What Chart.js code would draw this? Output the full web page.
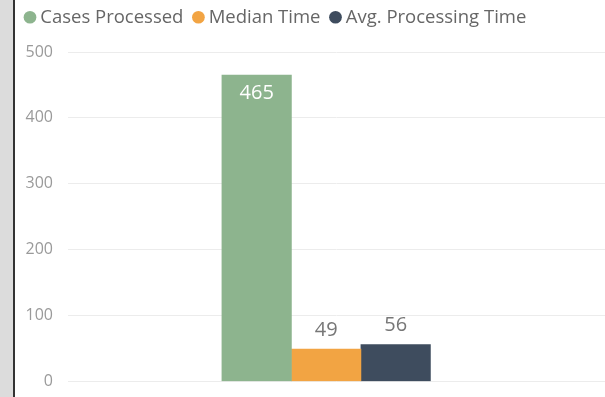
<!DOCTYPE html>
<html>
<head>
<meta charset="utf-8">
<script src="https://cdn.jsdelivr.net/npm/chart.js@4.4.1/dist/chart.umd.min.js"></script>
<style>
  html, body { margin: 0; padding: 0; background: #fff; }
  #wrap { position: relative; width: 605px; height: 397px; overflow: hidden; }
  #frame { position: absolute; left: 0; top: 0; width: 13px; height: 397px; background: #dcdcdc; border-right: 2px solid #333; }
  #box { position: absolute; left: 15px; top: 0; width: 590px; height: 406px; }
</style>
</head>
<body>
<div id="wrap">
  <div id="frame"></div>
  <div id="box"><canvas id="c"></canvas></div>
</div>
<script>
const categories = [''];
const seriesNames = ['Cases Processed', 'Median Time', 'Avg. Processing Time'];
const casesProcessed = [465];
const medianTime = [49];
const avgProcessingTime = [56];
const yTicks = [0, 100, 200, 300, 400, 500];
const seriesColors = ['#8db48e', '#f2a443', '#3e4c5e'];

const seriesValues = [casesProcessed, medianTime, avgProcessingTime];
const FONT = '"Open Sans", "Noto Sans", sans-serif';

const legendGap = {
  id: 'legendGap',
  beforeInit(chart) {
    const fit = chart.legend.fit;
    chart.legend.fit = function () {
      fit.bind(chart.legend)();
      this.height += 15.5;
    };
  }
};

const dataLabels = {
  id: 'dataLabels',
  afterDatasetsDraw(chart) {
    const ctx = chart.ctx;
    ctx.save();
    ctx.font = '20px ' + FONT;
    ctx.textAlign = 'center';
    chart.data.datasets.forEach((ds, di) => {
      const meta = chart.getDatasetMeta(di);
      meta.data.forEach((bar, i) => {
        const v = ds.data[i].y;
        const h = bar.base - bar.y;
        if (h > 60) {
          ctx.fillStyle = '#ffffff';
          ctx.textBaseline = 'top';
          ctx.fillText(String(v), bar.x, bar.y + 8);
        } else {
          ctx.fillStyle = '#777777';
          ctx.textBaseline = 'bottom';
          ctx.fillText(String(v), bar.x, bar.y - 9);
        }
      });
    });
    ctx.restore();
  }
};

new Chart(document.getElementById('c'), {
  type: 'bar',
  data: {
    datasets: seriesNames.map((name, k) => ({
      label: name,
      data: seriesValues[k].map((v, i) => ({ x: i, y: v })),
      backgroundColor: seriesColors[k],
      borderWidth: 0,
      barThickness: 69.5
    }))
  },
  options: {
    responsive: true,
    maintainAspectRatio: false,
    animation: false,
    layout: { padding: { left: 0, right: 0, top: -6, bottom: 0 } },
    plugins: {
      tooltip: { enabled: false },
      legend: {
        display: true,
        position: 'top',
        align: 'start',
        labels: {
          usePointStyle: true,
          pointStyle: 'circle',
          boxWidth: 2,
          boxHeight: 9,
          padding: 14,
          color: '#666666',
          font: { family: FONT, size: 18.5 }
        }
      }
    },
    scales: {
      x: {
        type: 'linear',
        min: -1,
        max: 1.08,
        display: false,
        offset: false
      },
      y: {
        min: 0,
        max: 500,
        afterFit(scale) { scale.width = 53; },
        afterBuildTicks(scale) { scale.ticks = yTicks.map(v => ({ value: v })); },
        border: { display: false },
        grid: { color: '#ececec', drawTicks: false, lineWidth: 1 },
        ticks: {
          padding: 15,
          color: '#9a9a9a',
          font: { family: FONT, size: 16 }
        }
      }
    }
  },
  plugins: [legendGap, dataLabels]
});
</script>
</body>
</html>
